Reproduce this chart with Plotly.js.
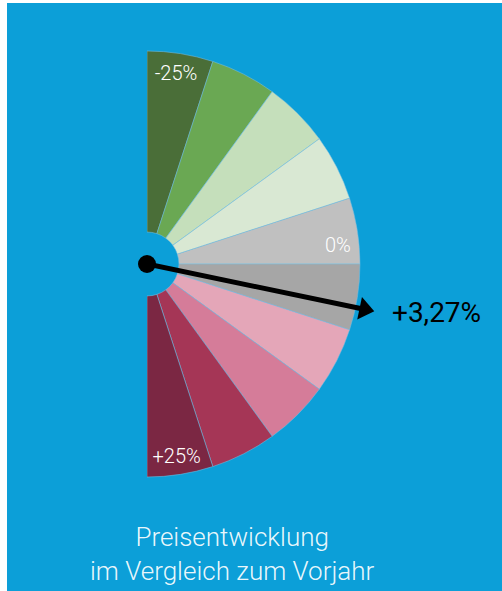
<!DOCTYPE html>
<html>
<head>
<meta charset="utf-8">
<script src="https://cdn.plot.ly/plotly-3.0.1.min.js"></script>
<style>
  html, body { margin: 0; padding: 0; background: #ffffff; }
  #chart { width: 502px; height: 591px; }
</style>
</head>
<body>
<div id="chart"></div>
<script>
// ---- data ----
const segmentStarts = [-25, -20, -15, -10, -5, 0, 5, 10, 15, 20];
const segmentStep = 5;
const segmentColors = ['#4a6e38', '#6aa853', '#c5dfbb', '#d9e8d3', '#c0c0c0',
                       '#a6a6a6', '#e4a6b8', '#d57c99', '#a53656', '#7b2743'];
const tickValues = [-25, 0, 25];
const tickLabels = ['-25%', '0%', '+25%'];
const needleValue = 3.27;
const scaleMin = -25;
const scaleMax = 25;
const titleLines = ['Preisentwicklung', 'im Vergleich zum Vorjahr'];

// ---- scale: value -> angle (degrees clockwise from top, half circle) ----
const deg = v => (v - scaleMin) / (scaleMax - scaleMin) * 180;

const blue = '#0c9fd8';
const innerR = 0.15;
const W = 502, H = 591;
const cx = 147, cy = 264, Rpx = 213, rMax = 1.2;
const Rfull = Rpx * rMax;

const bars = {
  type: 'barpolar',
  theta: segmentStarts.map(v => deg(v + segmentStep / 2)),
  width: segmentStarts.map(v => deg(v + segmentStep) - deg(v)),
  r: segmentStarts.map(() => 1 - innerR),
  base: segmentStarts.map(() => innerR),
  marker: { color: segmentColors, line: { color: 'rgba(120,190,225,0.9)', width: 0.6 } },
  hoverinfo: 'skip'
};

const labelOffsets = [8.7, -5.1, -8.7];
const labelR = [0.9, 0.9, 0.92];
const labels = {
  type: 'scatterpolar', mode: 'text',
  r: labelR,
  theta: tickValues.map((v, i) => deg(v) + labelOffsets[i]),
  text: tickLabels,
  textposition: 'middle center',
  textfont: { family: 'Roboto', size: 20, color: '#ffffff', weight: 300 },
  cliponaxis: false, hoverinfo: 'skip'
};

const a = deg(needleValue);
const needle = {
  type: 'scatterpolar', mode: 'lines',
  r: [0, 1.03], theta: [a, a],
  line: { color: '#000000', width: 5 },
  cliponaxis: false, hoverinfo: 'skip'
};
const head = {
  type: 'scatterpolar', mode: 'markers',
  r: [1.043], theta: [a],
  marker: { symbol: 'triangle-up', size: 20, angle: a, color: '#000000' },
  cliponaxis: false, hoverinfo: 'skip'
};
const hub = {
  type: 'scatterpolar', mode: 'markers',
  r: [0], theta: [0],
  marker: { size: 18, color: '#000000' },
  cliponaxis: false, hoverinfo: 'skip'
};
const valueText = {
  type: 'scatterpolar', mode: 'text',
  r: [1.175], theta: [a],
  text: ['+' + needleValue.toFixed(2).replace('.', ',') + '%'],
  textposition: 'middle right',
  textfont: { family: 'Roboto', size: 28, color: '#000000' },
  cliponaxis: false, hoverinfo: 'skip'
};

const layout = {
  width: W, height: H,
  margin: { l: 0, r: 0, t: 0, b: 0 },
  paper_bgcolor: '#ffffff',
  showlegend: false,
  shapes: [{
    type: 'rect', xref: 'paper', yref: 'paper', layer: 'below',
    x0: 7 / W, x1: 1, y0: 0, y1: 1 - 3 / H,
    fillcolor: blue, line: { width: 0 }
  }],
  polar: {
    domain: { x: [cx / W, (cx + Rfull) / W], y: [1 - (cy + Rfull) / H, 1 - (cy - Rfull) / H] },
    sector: [-90, 90],
    bgcolor: 'rgba(0,0,0,0)',
    radialaxis: { range: [0, rMax], visible: false },
    angularaxis: { rotation: 90, direction: 'clockwise', showline: false, showgrid: false,
                   showticklabels: false, ticks: '' },
    bargap: 0
  },
  annotations: [{
    xref: 'paper', yref: 'paper', x: 232 / W, y: 1 - 554 / H,
    xanchor: 'center', yanchor: 'middle', align: 'center', showarrow: false,
    text: titleLines.join('<br>'),
    font: { family: 'Roboto', size: 26, color: 'rgba(255,255,255,0.93)', weight: 300 }
  }]
};

Plotly.newPlot('chart', [bars, needle, head, hub, labels, valueText], layout, { displayModeBar: false, staticPlot: true });
</script>
</body>
</html>
